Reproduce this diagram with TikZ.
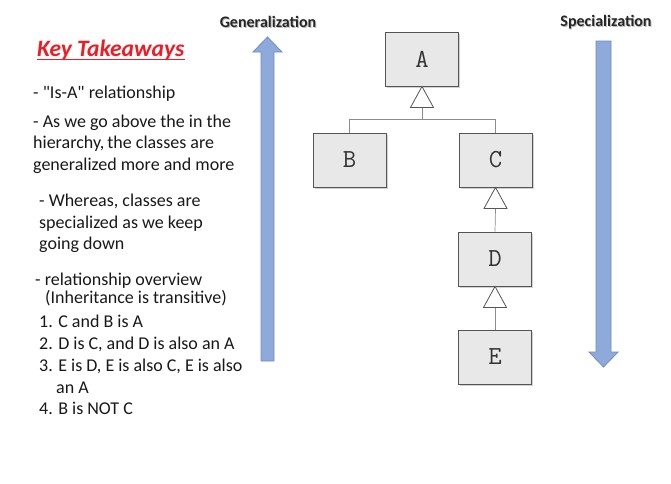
\documentclass[tikz,border=0pt]{standalone}
\usepackage{fontspec}
\setmainfont{Carlito}
\newcommand\sq{\XeTeXglyph\XeTeXcharglyph"22\relax}
\usetikzlibrary{calc,shadows}
\definecolor{boxfill}{HTML}{E8E8E8}
\definecolor{boxline}{HTML}{555555}
\definecolor{arrowfill}{HTML}{8EAADB}
\definecolor{arrowline}{HTML}{6F8CC4}
\definecolor{keyred}{HTML}{EE1C25}
\begin{document}
\begin{tikzpicture}[x=1pt,y=-1pt,
  cls/.style={draw=boxline,line width=0.9pt,fill=boxfill,minimum width=73pt,minimum height=54pt,inner sep=0pt,
    font=\ttfamily\fontsize{26}{26}\selectfont,text=black!80,drop shadow={shadow xshift=1.5pt,shadow yshift=-1.5pt,opacity=0.35}},
  tri/.style={draw=boxline,line width=0.8pt,fill=white,line join=miter},
  conn/.style={draw=black!45,line width=0.7pt},
  bigarrow/.style={draw=arrowline,line width=0.8pt,fill=arrowfill,line join=miter},
  txt/.style={anchor=base west,inner sep=0pt,font=\fontsize{18}{20}\selectfont,text=black!90},
  lbl/.style={inner sep=0pt,font=\bfseries\fontsize{16}{18}\selectfont,text=black!85}]
\useasboundingbox (0,0) rectangle (671,483);
\fill[white] (0,0) rectangle (671,483);

% big arrows
\draw[bigarrow] (261,361) -- (261,52) -- (253,52) -- (267.5,37) -- (282,52) -- (274,52) -- (274,361) -- cycle;
\draw[bigarrow] (596,41) -- (596,352) -- (589,352) -- (603.5,367) -- (618,352) -- (611,352) -- (611,41) -- cycle;
\node[lbl,text=black!25] at (269,23.2) {Generalization};
\node[lbl,text=black!25] at (607,23.2) {Specialization};
\node[lbl] (gen) at (268,22) {Generalization};
\node[lbl] (spec) at (606,22) {Specialization};

% classes
\node[cls] (A) at (422,59) {A};
\node[cls] (B) at (349.5,160) {B};
\node[cls] (C) at (495.5,160) {C};
\node[cls] (D) at (495,259) {D};
\node[cls] (E) at (495,357) {E};

% inheritance triangles
\coordinate (tA) at ($(A.south)+(0,21)$);
\coordinate (tC) at ($(C.south)+(0,21)$);
\coordinate (tD) at ($(D.south)+(0,21)$);
\draw[conn] (tA) -- ++(0,12) -| (B.north);
\draw[conn] (tA) -- ++(0,12) -| (C.north);
\draw[conn] (tC) -- (D.north);
\draw[conn] (tD) -- (E.north);
\draw[tri] (A.south) -- ($(tA)+(-11.5,0)$) -- ($(tA)+(11.5,0)$) -- cycle;
\draw[tri] (C.south) -- ($(tC)+(-11.5,0)$) -- ($(tC)+(11.5,0)$) -- cycle;
\draw[tri] (D.south) -- ($(tD)+(-11.5,0)$) -- ($(tD)+(11.5,0)$) -- cycle;

% text
\node[anchor=base west,inner sep=0pt,font=\bfseries\itshape\fontsize{23.5}{26}\selectfont,text=keyred] (key) at (37,56) {Key Takeaways};
\draw[keyred,line width=1.6pt] ($(key.base west)+(0,3.5)$) -- ($(key.base east)+(0,3.5)$);
\node[txt] (l1) at (33,98) {- \sq Is-A\sq{} relationship};
\node[txt] (l2) at (33,127) {- As we go above the in the};
\node[txt] (l3) at (33,148) {hierarchy,\,the classes are};
\node[txt] (l4) at (33,170) {generalized more and more};
\node[txt] (l5) at (39,206) {- Whereas, classes are};
\node[txt] (l6) at (39,228) {specialized as we keep};
\node[txt] (l7) at (39,249) {going down};
\node[txt] (l8) at (35,285) {- relationship overview};
\node[txt] (l9) at (45,303) {(Inheritance is transitive)};
\node[txt] (l10) at (39,327) {1. C and B is A};
\node[txt] (l11) at (39,349) {2. D is C, and D is also an A};
\node[txt] (l12) at (39,371) {3. E is D, E is also C, E is also};
\node[txt] (l13) at (56,393) {an A};
\node[txt] (l14) at (39,414) {4. B is NOT C};
\end{tikzpicture}
\end{document}
